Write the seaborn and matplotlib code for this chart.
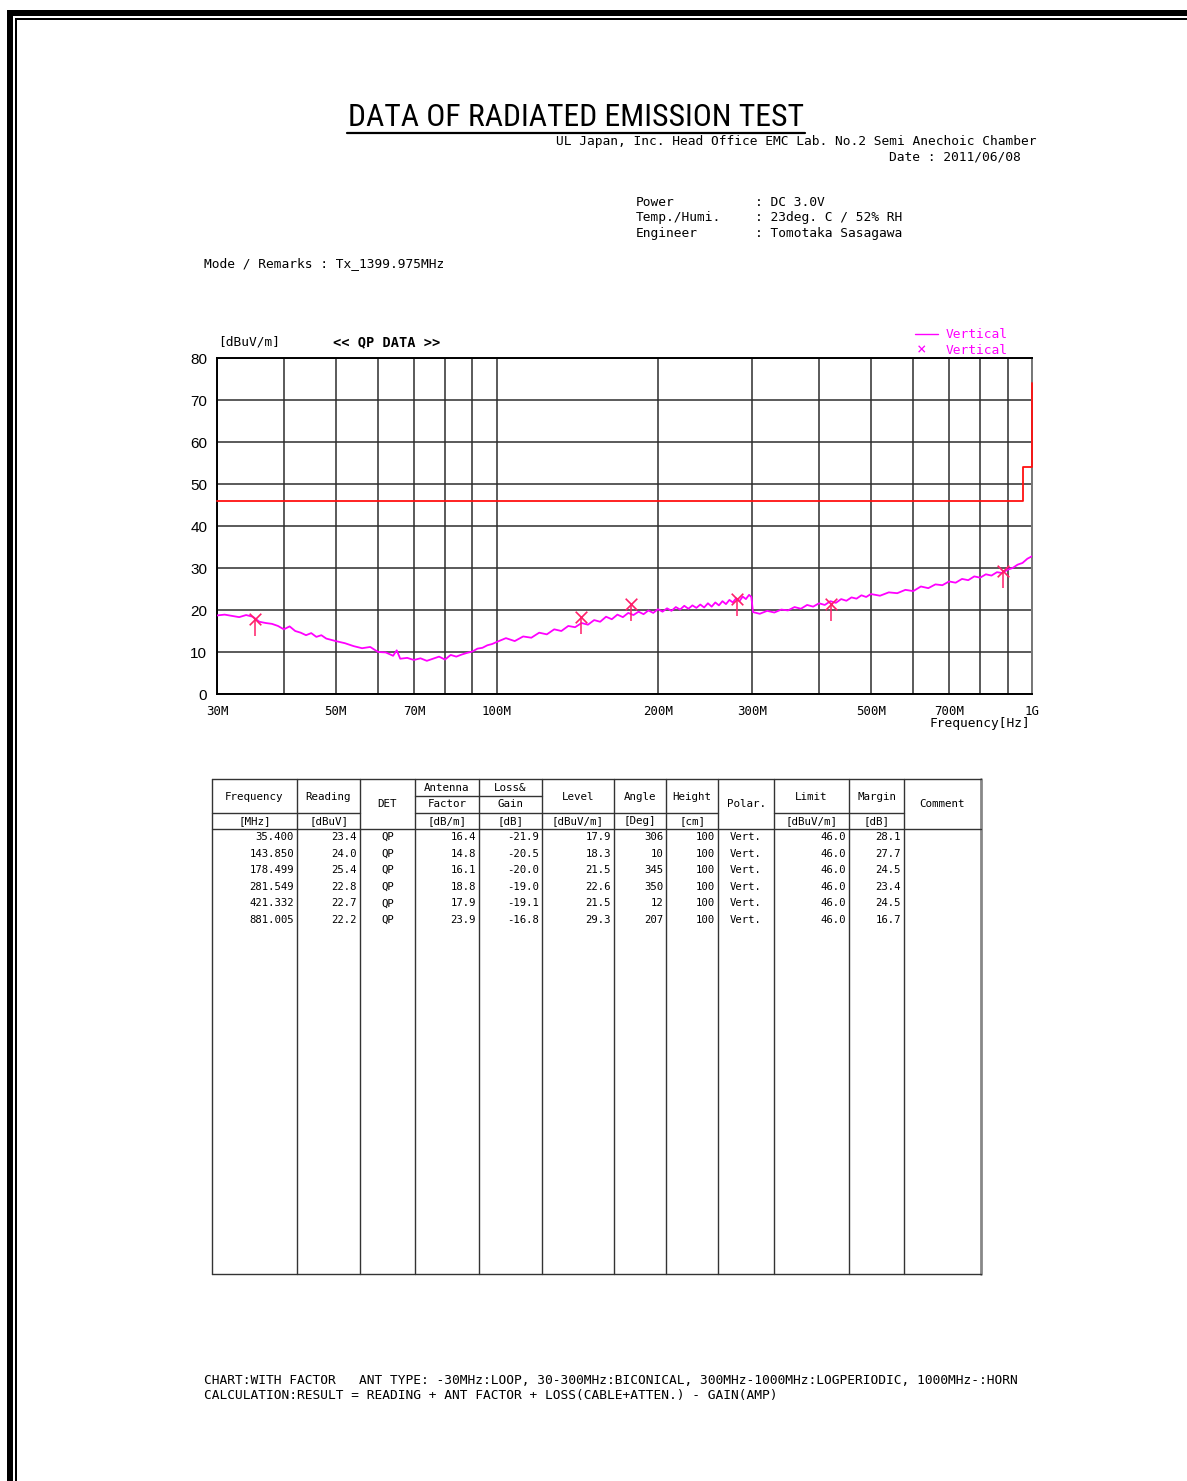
import os
import matplotlib
matplotlib.use("Agg")
import matplotlib.pyplot as plt
from matplotlib import font_manager
from matplotlib.font_manager import FontProperties
from matplotlib.patches import Rectangle
import pandas as pd
import seaborn as sns

# ---- data ----
# scan trace (Vertical), MHz / dBuV/m
trace_freq = [30, 31, 32, 33, 34, 35, 36, 37, 38, 39, 40, 41, 42, 43, 44, 45, 46, 47, 48, 49,
              50, 52, 54, 56, 58, 60, 62, 64, 65, 66, 68, 70, 72, 74, 76, 78, 80, 82, 84, 86,
              88, 90, 92, 94, 96, 98,
              100, 104, 108, 112, 116, 120, 124, 128, 132, 136, 140, 144, 148, 152, 156, 160,
              164, 168, 172, 176, 180, 184, 188, 192, 196, 200, 204, 208, 212, 216, 220, 224,
              228, 232, 236, 240, 244, 248, 252, 256, 260, 264, 268, 272, 276, 280, 284, 288,
              292, 296, 299,
              301, 310, 320, 330, 340, 350, 360, 370, 380, 390, 400, 410, 420, 430, 440, 450,
              460, 470, 480, 490, 500, 520, 540, 560, 580, 600, 620, 640, 660, 680, 700, 720,
              740, 760, 780, 800, 820, 840, 860, 880, 900, 920, 940, 960, 980, 1000]
trace_level = [18.7, 18.9, 18.6, 18.3, 18.8, 18.4, 17.2, 16.9, 16.7, 16.2, 15.4, 16.1, 15.0, 14.6, 14.0, 14.5, 13.6, 14.0, 13.2, 12.9,
               12.6, 12.1, 11.4, 10.9, 11.2, 10.0, 9.9, 9.1, 10.4, 8.4, 8.6, 8.1, 8.5, 7.9, 8.4, 8.9, 8.2, 9.3, 8.9, 9.4,
               9.8, 10.1, 10.8, 11.0, 11.6, 11.9,
               12.4, 13.3, 12.6, 13.7, 13.4, 14.6, 14.2, 15.4, 15.0, 16.2, 15.9, 16.9, 16.5, 17.6, 17.2, 18.4,
               17.8, 18.9, 18.3, 19.3, 18.8, 19.6, 19.0, 19.9, 19.3, 20.2, 19.6, 20.4, 19.8, 20.7, 20.1, 21.0,
               20.3, 21.1, 20.5, 21.3, 20.6, 21.6, 20.8, 21.8, 21.1, 22.1, 21.4, 22.4, 21.8, 22.8, 22.1, 23.2,
               22.6, 23.6, 23.1,
               19.5, 19.1, 19.8, 19.4, 20.1, 19.9, 20.7, 20.3, 21.2, 20.8, 21.6, 21.2, 22.1, 21.7, 22.6, 22.2,
               23.0, 22.7, 23.5, 23.1, 23.8, 23.4, 24.2, 24.0, 24.8, 24.5, 25.6, 25.2, 26.1, 25.9, 26.8, 26.5,
               27.4, 27.1, 28.0, 27.7, 28.5, 28.2, 29.0, 28.8, 29.6, 30.0, 30.8, 31.2, 32.2, 32.8]

# limit line
limit_freq = [30, 960, 960, 1000, 1000]
limit_level = [46, 46, 54, 54, 74]

# QP result table
freq = [35.400, 143.850, 178.499, 281.549, 421.332, 881.005]
reading = [23.4, 24.0, 25.4, 22.8, 22.7, 22.2]
det = ["QP"] * 6
ant_factor = [16.4, 14.8, 16.1, 18.8, 17.9, 23.9]
loss_gain = [-21.9, -20.5, -20.0, -19.0, -19.1, -16.8]
level = [17.9, 18.3, 21.5, 22.6, 21.5, 29.3]
angle = [306, 10, 345, 350, 12, 207]
height = [100, 100, 100, 100, 100, 100]
polar = ["Vert."] * 6
limit = [46.0] * 6
margin = [28.1, 27.7, 24.5, 23.4, 24.5, 16.7]

xtick_vals = [30, 50, 70, 100, 200, 300, 500, 700, 1000]
xtick_labels = ["30M", "50M", "70M", "100M", "200M", "300M", "500M", "700M", "1G"]
xgrid_minor = [40, 60, 80, 90, 400, 600, 800, 900]

# ---- style ----
sns.set_style("white")
plt.rcParams["font.family"] = ["Liberation Sans", "DejaVu Sans"]
plt.rcParams["text.color"] = "black"
plt.rcParams["xtick.color"] = "black"
plt.rcParams["ytick.color"] = "black"

# the report prints in a monospaced gothic; DejaVu Sans Mono keeps its spacing,
# a condensed sans is used for the tall title
files = {os.path.basename(f.fname): f.fname for f in font_manager.fontManager.ttflist}
def pick(cands):
    for c in cands:
        if c in files:
            return files[c]
    return None
cond_file = pick(["LiberationSansNarrow-Regular.ttf", "RobotoCondensed-Regular.ttf",
                  "DejaVuSansCondensed.ttf"])

def FP(size, bold=False, title=False):
    if title and cond_file:
        return FontProperties(fname=cond_file, size=size)
    return FontProperties(family=["DejaVu Sans Mono"], size=size,
                          weight="bold" if bold else "normal")

W, H = 1187, 1481
fig = plt.figure(figsize=(W / 100, H / 100), dpi=100)
fig.patch.set_facecolor("white")
renderer = fig.canvas.get_renderer()

# page overlay in pixel coordinates
pg = fig.add_axes([0, 0, 1, 1])
pg.set_xlim(0, W)
pg.set_ylim(H, 0)
pg.axis("off")

def fit_size(s, target, bold=False, title=False):
    t = pg.text(0, 0, s, fontproperties=FP(10, bold, title))
    w = t.get_window_extent(renderer).width
    t.remove()
    return 10 * target / w

def T(x, y, s, size, ha="left", bold=False, title=False, **kw):
    return pg.text(x, y, s, ha=ha, va="center", fontproperties=FP(size, bold, title), **kw)

# page frame
for r in [(7, 10, 6, H), (7, 10, W, 6), (15, 18, 2, H), (15, 18, W, 2)]:
    pg.add_patch(Rectangle((r[0], r[1]), r[2], r[3], color="black", lw=0))

fs = fit_size("UL Japan, Inc. Head Office EMC Lab. No.2 Semi Anechoic Chamber", 484)
ts = fit_size("DATA OF RADIATED EMISSION TEST", 458, title=True)
T(576, 118, "DATA OF RADIATED EMISSION TEST", ts, ha="center", title=True)
pg.plot([347, 805], [133, 133], color="black", lw=1.6)
T(1036, 142, "UL Japan, Inc. Head Office EMC Lab. No.2 Semi Anechoic Chamber", fs, ha="right")
T(1021, 157, "Date : 2011/06/08", fs, ha="right")

for i, (lab, val) in enumerate([("Power", ": DC 3.0V"),
                                ("Temp./Humi.", ": 23deg. C / 52% RH"),
                                ("Engineer", ": Tomotaka Sasagawa")]):
    T(636, 203 + 15 * i, lab, fs)
    T(755, 203 + 15 * i, val, fs)

T(204, 264, "Mode / Remarks : Tx_1399.975MHz", fs)

# chart labels
T(218, 342, "[dBuV/m]", fs)
T(333, 342, "<< QP DATA >>", fit_size("<< QP DATA >>", 107, bold=True), bold=True)
T(1030, 724, "Frequency[Hz]", fs, ha="right")

magenta = "#FF00FF"
mark_col = "#FF1F6A"
pg.plot([915, 938], [334, 334], color=magenta, lw=1)
T(946, 335, "Vertical", fs, color=magenta)
T(922, 350, "×", fs + 2, ha="center", color=magenta)
T(946, 350, "Vertical", fs, color=magenta)

# footer
T(204, 1381, "CHART:WITH FACTOR   ANT TYPE: -30MHz:LOOP, 30-300MHz:BICONICAL, "
  "300MHz-1000MHz:LOGPERIODIC, 1000MHz-:HORN", fs)
T(204, 1396, "CALCULATION:RESULT = READING + ANT FACTOR + LOSS(CABLE+ATTEN.) - GAIN(AMP)", fs)

# ---- chart ----
ax = fig.add_axes([217 / W, 1 - 694 / H, 815 / W, 336 / H])
ax.set_facecolor("white")

trace = pd.DataFrame({"freq": trace_freq, "level": trace_level})
sns.lineplot(data=trace, x="freq", y="level", ax=ax, color=magenta, lw=1.3,
             sort=False, estimator=None, zorder=3)
lim = pd.DataFrame({"freq": limit_freq, "level": limit_level})
sns.lineplot(data=lim, x="freq", y="level", ax=ax, color="#FF1010", lw=1.3,
             sort=False, estimator=None, zorder=4, clip_on=False)

res = pd.DataFrame({"freq": freq, "level": level})
ax.vlines(res["freq"], res["level"] - 4, res["level"], color=mark_col, lw=1.1, zorder=5)
sns.scatterplot(data=res, x="freq", y="level", ax=ax, marker="x", s=70, color=mark_col,
                linewidth=1.2, zorder=6)
ax.set_xlabel("")
ax.set_ylabel("")

ax.set_xscale("log")
ax.set_xlim(30, 1000)
ax.set_ylim(0, 80)
ax.set_xticks(xtick_vals, labels=xtick_labels, fontproperties=FP(fit_size("100M", 30)))
ax.set_xticks(xgrid_minor, labels=[""] * len(xgrid_minor), minor=True)
ax.set_yticks(range(0, 81, 10))
ax.grid(True, which="both", color="#2e2e2e", lw=1.1)
ax.tick_params(which="both", length=0)
ax.tick_params(axis="x", pad=8)
ax.tick_params(axis="y", pad=7, labelsize=11)
for sp in ax.spines.values():
    sp.set_color("black")
    sp.set_linewidth(1.4)
ax.spines["right"].set_color("#777777")

# ---- result table ----
cols = [212, 297, 360, 415, 479, 542, 614, 666, 718, 774, 849, 904, 981]
top, mid, hdr, units, bottom = 779, 796, 813, 829, 1274
lc = "#333333"
for x in cols[:-1]:
    pg.plot([x, x], [top, bottom], color=lc, lw=1)
pg.plot([cols[-1], cols[-1]], [top, bottom], color="#888888", lw=2)
pg.plot([cols[0], cols[-1]], [top, top], color=lc, lw=1)
pg.plot([cols[0], cols[-1]], [bottom, bottom], color=lc, lw=1)
pg.plot([cols[0], cols[-1]], [units, units], color=lc, lw=1)
pg.plot([cols[3], cols[5]], [mid, mid], color=lc, lw=1)
# header bottom skips DET, Polar. and Comment cells
for a, b in [(0, 2), (3, 8), (9, 11)]:
    pg.plot([cols[a], cols[b]], [hdr, hdr], color=lc, lw=1)

tf = fit_size("Frequency", 59)
heads = [("Frequency", 797), ("Reading", 797), ("DET", 804), ("Antenna", 788), ("Loss&", 788),
         ("Level", 797), ("Angle", 797), ("Height", 797), ("Polar.", 804), ("Limit", 797),
         ("Margin", 797), ("Comment", 804)]
for i, (h, y) in enumerate(heads):
    T((cols[i] + cols[i + 1]) / 2, y, h, tf, ha="center")
T((cols[3] + cols[4]) / 2, 804, "Factor", tf, ha="center")
T((cols[4] + cols[5]) / 2, 804, "Gain", tf, ha="center")
unit_labels = ["[MHz]", "[dBuV]", "", "[dB/m]", "[dB]", "[dBuV/m]", "[Deg]", "[cm]", "",
               "[dBuV/m]", "[dB]", ""]
for i, u in enumerate(unit_labels):
    T((cols[i] + cols[i + 1]) / 2, 821, u, tf, ha="center")

df = fit_size("881.005", 45)
for r in range(len(freq)):
    y = 837 + 16.6 * r
    right_vals = {0: f"{freq[r]:.3f}", 1: f"{reading[r]:.1f}", 3: f"{ant_factor[r]:.1f}",
                  4: f"{loss_gain[r]:.1f}", 5: f"{level[r]:.1f}",
                  6: f"{angle[r]}", 7: f"{height[r]}", 9: f"{limit[r]:.1f}",
                  10: f"{margin[r]:.1f}"}
    for c, s in right_vals.items():
        T(cols[c + 1] - 3, y, s, df, ha="right")
    T((cols[2] + cols[3]) / 2, y, det[r], df, ha="center")
    T((cols[8] + cols[9]) / 2, y, polar[r], df, ha="center")

fig.savefig("out.png", dpi=100)
